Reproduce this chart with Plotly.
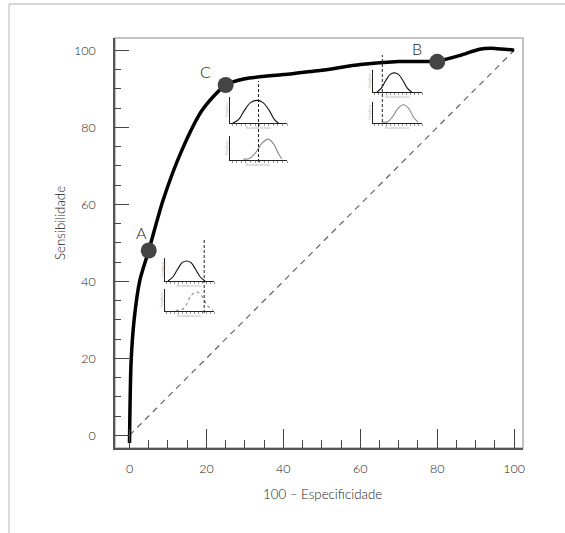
import plotly.graph_objects as go

# ---------------- data ----------------
roc_x = [0, 0.4, 1.2, 2.7, 5, 8.7, 13.6, 19, 25, 30, 40, 50, 60, 70, 80, 86, 91, 95, 100]
roc_y = [-2, 18.7, 30, 40.3, 48, 61, 74, 84.6, 91, 92.6, 93.7, 94.8, 96.3, 97.1, 97.2, 98.7, 100.3, 100.5, 100]

diag_x = [0, 100]
diag_y = [0, 100]

point_labels = ["A", "C", "B"]
point_x = [5, 25, 80]
point_y = [48, 91, 97]

tick_vals = [0, 20, 40, 60, 80, 100]
tick_text = ["0", "20", "40", "60", "80", "100"]

# inset distributions (mini-axis units 0..10 / 0..1)
insetA_top_x = [0.6, 1.6, 2.6, 3.5, 4.4, 5.3, 6.2, 7.2, 8.2]
insetA_top_y = [0.0, 0.2, 0.6, 0.92, 1.0, 0.92, 0.6, 0.2, 0.0]
insetA_bot_x = [2.2, 3.4, 4.3, 5.3, 6.5, 7.6, 8.6, 9.8]
insetA_bot_y = [0.05, 0.06, 0.3, 0.8, 1.0, 0.75, 0.3, 0.05]
insetA_threshold = 8.0

insetC_top_x = [0.5, 1.5, 2.5, 3.6, 4.7, 5.8, 6.9, 7.8, 8.5]
insetC_top_y = [0.0, 0.15, 0.55, 0.9, 1.0, 0.9, 0.55, 0.15, 0.0]
insetC_bot_x = [2.3, 3.4, 4.5, 5.6, 6.7, 7.7, 8.5, 9.1]
insetC_bot_y = [0.05, 0.07, 0.35, 0.8, 1.0, 0.75, 0.3, 0.05]
insetC_threshold = 5.0

insetB_top_x = [0.8, 1.7, 2.6, 3.5, 4.3, 5.2, 6.1, 7.0, 7.9]
insetB_top_y = [0.0, 0.2, 0.6, 0.92, 1.0, 0.92, 0.6, 0.2, 0.0]
insetB_bot_x = [1.8, 3.0, 4.0, 5.1, 6.2, 7.3, 8.3, 9.2]
insetB_bot_y = [0.05, 0.07, 0.35, 0.8, 1.0, 0.8, 0.3, 0.05]
insetB_threshold = 1.9

# ---------------- layout helpers ----------------
W, H = 565, 533
L, R, T, B = 115, 42, 38, 85
PW = W - L - R
PH = H - T - B


def px(xp):
    return (xp - L) / PW


def py(yp):
    return (H - B - yp) / PH


FONT = "Lato, 'Open Sans', sans-serif"
TXT = "#1a1a1a"

fig = go.Figure()

fig.add_trace(go.Scatter(x=diag_x, y=diag_y, mode="lines",
                         line=dict(color="#666", width=1.2, dash="6px,5px"),
                         hoverinfo="skip", showlegend=False))
fig.add_trace(go.Scatter(x=roc_x, y=roc_y, mode="lines",
                         line=dict(color="#000", width=3.5, shape="spline", smoothing=0.7),
                         showlegend=False))
fig.add_trace(go.Scatter(x=point_x, y=point_y, mode="markers",
                         marker=dict(size=16, color="#444"), showlegend=False))

for lab, xv, yv in zip(point_labels, point_x, point_y):
    dx, dy = (-7, 18) if lab == "A" else (-20, 13)
    fig.add_annotation(x=xv, y=yv, xref="x", yref="y", text=lab, showarrow=False,
                       xshift=dx, yshift=dy, xanchor="center", yanchor="middle",
                       font=dict(family=FONT, size=16, color=TXT, weight=300))

insets = [
    (insetA_top_x, insetA_top_y, insetA_bot_x, insetA_bot_y, insetA_threshold,
     165, 214, (258, 281), (289, 311), (240, 313), "dot"),
    (insetC_top_x, insetC_top_y, insetC_bot_x, insetC_bot_y, insetC_threshold,
     230, 287, (97, 123), (136, 160), (81, 162), "solid"),
    (insetB_top_x, insetB_top_y, insetB_bot_x, insetB_bot_y, insetB_threshold,
     373, 422, (70, 92), (102, 123), (55, 122), "solid"),
]

ax_n = 2
for (tx, ty, bx, by, thr, x0, x1, (tt, tb), (bt, bb), (s0, s1), bdash) in insets:
    for (cx, cy, top, bot, col, dash) in [(tx, ty, tt, tb, "#111", "solid"),
                                           (bx, by, bt, bb, "#888", bdash)]:
        xa = "x%d" % ax_n
        ya = "y%d" % ax_n
        fig.add_trace(go.Scatter(x=cx, y=cy, xaxis=xa, yaxis=ya, mode="lines",
                                 line=dict(color=col, width=1.1, shape="spline", dash=dash),
                                 hoverinfo="skip", showlegend=False))
        fig.update_layout(**{
            "xaxis%d" % ax_n: dict(domain=[px(x0), px(x1)], anchor=ya, range=[0, 10],
                                   showline=True, linecolor="#222", linewidth=1,
                                   ticks="outside", ticklen=2, tickcolor="#999", tickwidth=0.6,
                                   dtick=0.8, tick0=0.4, showticklabels=False,
                                   showgrid=False, zeroline=False, fixedrange=True),
            "yaxis%d" % ax_n: dict(domain=[py(bot), py(top)], anchor=xa, range=[0, 1.15],
                                   showline=True, linecolor="#222", linewidth=1,
                                   ticks="", showticklabels=False,
                                   showgrid=False, zeroline=False, fixedrange=True),
        })
        fig.add_annotation(x=(px(x0) + px(x1)) / 2, y=py(bot + 5), xref="paper", yref="paper",
                           text="Resultado do teste", showarrow=False,
                           xanchor="center", yanchor="middle",
                           font=dict(family=FONT, size=3, color="#aaa"))
        fig.add_annotation(x=px(x0 - 3), y=(py(bot) + py(top)) / 2, xref="paper", yref="paper",
                           text="Frequência", showarrow=False, textangle=-90,
                           xanchor="center", yanchor="middle",
                           font=dict(family=FONT, size=3, color="#aaa"))
        ax_n += 1
    fig.add_shape(type="line", xref="x%d" % (ax_n - 2), yref="paper",
                  x0=thr, x1=thr, y0=py(s1), y1=py(s0),
                  line=dict(color="#222", width=1, dash="3px,2px"))

# frame (light) and outer border
fig.add_shape(type="rect", xref="paper", yref="paper", x0=0, x1=1, y0=0, y1=1,
              line=dict(color="#b0b0b0", width=1.5), layer="below")
fig.add_shape(type="line", xref="paper", yref="paper", x0=px(9), x1=px(W + 5), y0=py(4), y1=py(4),
              line=dict(color="#c8c8c8", width=1.3))
fig.add_shape(type="line", xref="paper", yref="paper", x0=px(9), x1=px(9), y0=py(4), y1=py(H + 5),
              line=dict(color="#c8c8c8", width=1.3))

axis_common = dict(showgrid=False, zeroline=False, showline=True, linecolor="#555",
                   linewidth=1.5, ticks="inside", tickcolor="#444", tickwidth=1.3,
                   tickvals=tick_vals, ticktext=tick_text,
                   tickfont=dict(family=FONT, size=12.5, color=TXT, weight=300),
                   fixedrange=True)

fig.update_layout(
    width=W, height=H,
    margin=dict(l=L, r=R, t=T, b=B, pad=0),
    paper_bgcolor="white", plot_bgcolor="white",
    xaxis=dict(range=[-3.77, 102.3], ticklen=19, ticklabelstandoff=8,
               minor=dict(dtick=5, tick0=0, ticklen=8, ticks="inside", tickcolor="#444", tickwidth=1.3),
               **axis_common),
    yaxis=dict(range=[-3.3, 103.2], ticklen=14, ticklabelstandoff=15,
               minor=dict(dtick=5, tick0=0, ticklen=6, ticks="inside", tickcolor="#444", tickwidth=1.3),
               **axis_common),
    showlegend=False,
)

fig.add_annotation(x=px(322), y=py(494), xref="paper", yref="paper", text="100 – Especificidade",
                   showarrow=False, xanchor="center", yanchor="middle",
                   font=dict(family=FONT, size=13.3, color=TXT, weight=300))
fig.add_annotation(x=px(60), y=py(223), xref="paper", yref="paper", text="Sensibilidade",
                   showarrow=False, textangle=-90, xanchor="center", yanchor="middle",
                   font=dict(family=FONT, size=13.3, color=TXT, weight=300))

fig.write_html("out.html", config={"displayModeBar": False},
               post_script="document.body.style.margin='0px';document.body.style.overflow='hidden';")
